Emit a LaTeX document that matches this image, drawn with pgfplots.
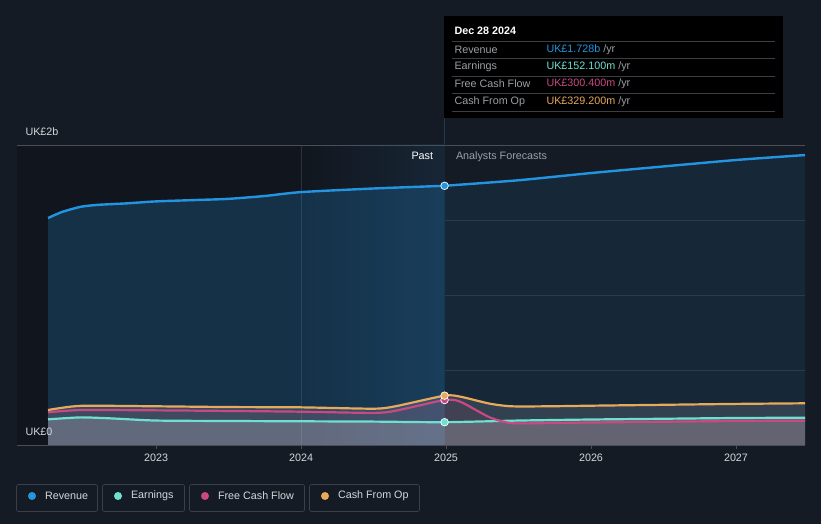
\documentclass[border=0pt]{standalone}
\usepackage{fontspec}
\setmainfont{Liberation Sans}
\usepackage{pgfplots}
\pgfplotsset{compat=1.18}

\definecolor{bg}{HTML}{151B25}
\definecolor{bgleft}{HTML}{11161E}
\definecolor{revc}{HTML}{2394DF}
\definecolor{earnc}{HTML}{6EE0CF}
\definecolor{fcfc}{HTML}{C94A83}
\definecolor{cfoc}{HTML}{E7A95C}
\definecolor{gridc}{HTML}{2B323D}
\definecolor{topc}{HTML}{4A4F57}
\definecolor{txt}{HTML}{D4D6D9}
\definecolor{tipsep}{HTML}{3B3F45}
\definecolor{tiplab}{HTML}{9AA0A6}
\definecolor{boxc}{HTML}{3A404A}
\definecolor{bandr}{HTML}{172636}
\definecolor{crossc}{HTML}{24384C}

% revenue, billions GBP
\pgfplotstableread{
x y
2022.255 1.513
2022.35 1.553
2022.48 1.588
2022.6 1.601
2022.8 1.611
2023.0 1.624
2023.3 1.634
2023.5 1.641
2023.75 1.660
2024.0 1.686
2024.5 1.710
2024.99 1.728
}\revpast
\pgfplotstableread{
x y
2024.99 1.728
2025.5 1.765
2026.0 1.813
2026.5 1.857
2027.0 1.900
2027.476 1.933
}\revfc
\pgfplotstableread{
x y
2022.255 0.171
2022.48 0.184
2022.7 0.177
2023.0 0.163
2023.5 0.160
2024.0 0.158
2024.5 0.156
2024.99 0.152
2025.5 0.163
2026.0 0.170
2026.5 0.175
2027.0 0.180
2027.476 0.182
}\earn
\pgfplotstableread{
x y
2022.255 0.218
2022.48 0.233
2023.0 0.231
2023.5 0.227
2024.0 0.222
2024.5 0.214
2024.65 0.228
2024.99 0.300
2025.1 0.288
2025.3 0.185
2025.45 0.146
2025.7 0.146
2026.0 0.150
2026.5 0.155
2027.0 0.160
2027.476 0.162
}\fcf
\pgfplotstableread{
x y
2022.255 0.233
2022.48 0.261
2023.0 0.258
2023.5 0.253
2024.0 0.251
2024.5 0.242
2024.65 0.258
2024.99 0.329
2025.1 0.322
2025.3 0.276
2025.45 0.258
2025.7 0.258
2026.0 0.262
2026.5 0.268
2027.0 0.274
2027.476 0.278
}\cfo

\begin{document}
\begin{tikzpicture}
\fill[bg] (0,0) rectangle (821bp,524bp);
\useasboundingbox (0,0) rectangle (821bp,524bp);

% crosshair line
\draw[crossc,line width=0.8bp] (444.5bp,79bp) -- (444.5bp,507bp);

\begin{axis}[
  at={(17bp,79bp)}, anchor=south west,
  width=788bp, height=300bp, scale only axis,
  xmin=2022.041, xmax=2027.476, ymin=0, ymax=2,
  axis line style={draw=none},
  xtick={2023,2024,2025,2026,2027},
  xticklabel style={/pgf/number format/1000 sep={}, font=\fontsize{10.8}{12}\selectfont, text=txt, yshift=-1bp},
  xtick pos=bottom, tick align=outside,
  major tick length=4bp,
  x tick style={draw=topc, line width=0.8bp},
  ytick={0.5,1,1.5}, yticklabels={},
  y tick style={draw=none},
  ymajorgrids, grid style={gridc, line width=0.8bp},
  clip=false,
  /pgf/number format/assume math mode=true,
]
% darker past background and forecast highlight band
\fill[bgleft] (axis cs:2022.041,0) rectangle (axis cs:2024.0,2);
\fill[left color=bgleft, right color=bandr] (axis cs:2024.0,0) rectangle (axis cs:2024.99,2);
\draw[gridc,line width=0.6bp] (axis cs:2024.0,0) -- (axis cs:2024.0,2);

% revenue areas
\addplot[draw=none, fill=revc, fill opacity=0.22, smooth, tension=0.4] table {\revpast} \closedcycle;
\addplot[draw=none, fill=revc, fill opacity=0.10, smooth, tension=0.4] table {\revfc} \closedcycle;

% grey areas under the smaller series
\addplot[draw=none, fill=white, fill opacity=0.12, smooth, tension=0.4] table {\cfo} \closedcycle;
\addplot[draw=none, fill=fcfc, fill opacity=0.10, smooth, tension=0.4] table {\fcf} \closedcycle;
\addplot[draw=none, fill=white, fill opacity=0.18, smooth, tension=0.4] table {\earn} \closedcycle;

% lines
\addplot[revc, line width=2.4bp, smooth, tension=0.4] table {\revpast};
\addplot[revc, line width=2.4bp, smooth, tension=0.4] table {\revfc};
\addplot[earnc, line width=2.2bp, smooth, tension=0.4] table {\earn};
\addplot[fcfc, line width=2.2bp, smooth, tension=0.4] table {\fcf};
\addplot[cfoc, line width=2.2bp, smooth, tension=0.4] table {\cfo};

% baseline and top rule
\draw[topc,line width=0.8bp] (axis cs:2022.041,0) -- (axis cs:2027.476,0);
\draw[topc,line width=0.8bp] (axis cs:2022.041,2) -- (axis cs:2027.476,2);

% markers at Dec 28 2024
\addplot[only marks, mark=*, mark size=3.8bp, mark options={fill=fcfc, draw=white, line width=0.7bp}] coordinates {(2024.99,0.300)};
\addplot[only marks, mark=*, mark size=3.8bp, mark options={fill=cfoc, draw=white, line width=0.7bp}] coordinates {(2024.99,0.329)};
\addplot[only marks, mark=*, mark size=3.8bp, mark options={fill=earnc, draw=white, line width=0.7bp}] coordinates {(2024.99,0.152)};
\addplot[only marks, mark=*, mark size=3.8bp, mark options={fill=revc, draw=white, line width=0.7bp}] coordinates {(2024.99,1.728)};

\node[anchor=east, text=white, font=\fontsize{10.8}{12}\selectfont] at (axis cs:2024.935,1.925) {Past};
\node[anchor=west, text=tiplab, font=\fontsize{10.8}{12}\selectfont] at (axis cs:2025.045,1.925) {Analysts Forecasts};
\end{axis}

% y labels
\node[anchor=west, text=txt, font=\fontsize{10.8}{12}\selectfont] at (22bp,392bp) {UK£2b};
\node[anchor=west, text=txt, font=\fontsize{10.8}{12}\selectfont] at (22bp,92bp) {UK£0};

% tooltip
\fill[black] (444bp,406bp) rectangle (783bp,508bp);
\node[anchor=west, text=white, font=\fontsize{10.8}{12}\selectfont\bfseries] at (451bp,493bp) {Dec 28 2024};
\foreach \yy in {482.5,465.5,447.8,430.7,412.7}
  \draw[tipsep,line width=0.7bp] (452bp,\yy bp) -- (775bp,\yy bp);
\begin{scope}[every node/.style={anchor=west, font=\fontsize{10.8}{12}\selectfont}]
\node[text=tiplab] at (451bp,474.5bp) {Revenue};
\node[text=tiplab] at (451bp,457.5bp) {Earnings};
\node[text=tiplab] at (451bp,440bp) {Free Cash Flow};
\node[text=tiplab] at (451bp,422.5bp) {Cash From Op};
\node at (543bp,474.5bp) {\textcolor{revc}{UK£1.728b} \textcolor{tiplab}{/yr}};
\node at (543bp,457.5bp) {\textcolor{earnc}{UK£152.100m} \textcolor{tiplab}{/yr}};
\node at (543bp,440bp) {\textcolor{fcfc}{UK£300.400m} \textcolor{tiplab}{/yr}};
\node at (543bp,422.5bp) {\textcolor{cfoc}{UK£329.200m} \textcolor{tiplab}{/yr}};
\end{scope}

% legend
\begin{scope}[every node/.style={anchor=west, text=txt, font=\fontsize{10.8}{12}\selectfont}]
\draw[boxc, rounded corners=2bp, line width=0.7bp] (16.5bp,12.5bp) rectangle (97.5bp,39.5bp);
\fill[revc] (32bp,28bp) circle (4bp);
\node at (41.5bp,28bp) {Revenue};
\draw[boxc, rounded corners=2bp, line width=0.7bp] (102.5bp,12.5bp) rectangle (184.5bp,39.5bp);
\fill[earnc] (118bp,28bp) circle (4bp);
\node at (127.5bp,28bp) {Earnings};
\draw[boxc, rounded corners=2bp, line width=0.7bp] (189.5bp,12.5bp) rectangle (304.5bp,39.5bp);
\fill[fcfc] (205bp,28bp) circle (4bp);
\node at (214.5bp,28bp) {Free Cash Flow};
\draw[boxc, rounded corners=2bp, line width=0.7bp] (309.5bp,12.5bp) rectangle (419.5bp,39.5bp);
\fill[cfoc] (325bp,28bp) circle (4bp);
\node at (334.5bp,28bp) {Cash From Op};
\end{scope}
\end{tikzpicture}
\end{document}
